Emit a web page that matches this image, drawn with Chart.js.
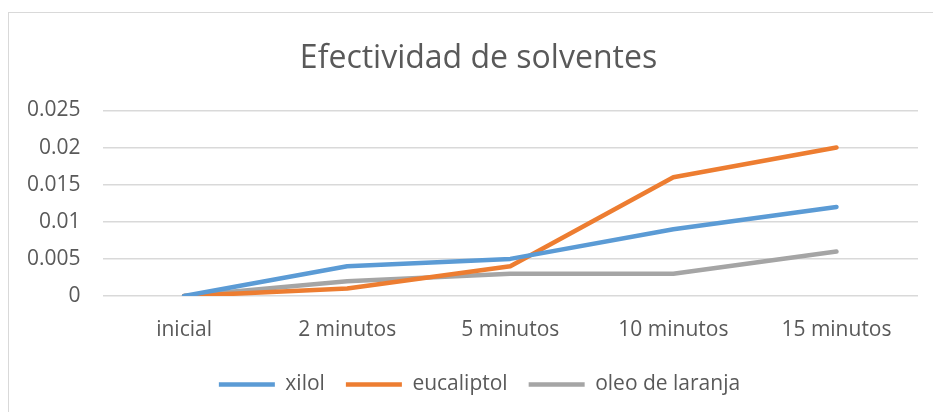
<!DOCTYPE html>
<html>
<head>
<meta charset="utf-8">
<script src="https://cdn.jsdelivr.net/npm/chart.js@4"></script>
<style>
    html, body { margin: 0; padding: 0; background: #fff; }
    #frame {
        position: absolute; left: 8px; top: 12px; width: 940px; height: 420px;
        border: 1px solid #d9d9d9; box-sizing: border-box;
    }
    #wrap { position: absolute; left: 0; top: 0; width: 933px; height: 412px; }
</style>
</head>
<body>
<div id="frame"></div>
<div id="wrap"><canvas id="solventChart"></canvas></div>
<script>
// Categories and series
const categories = ['inicial', '2 minutos', '5 minutos', '10 minutos', '15 minutos'];
const xilol = [0, 0.004, 0.005, 0.009, 0.012];
const eucaliptol = [0, 0.001, 0.004, 0.016, 0.02];
const oleoDeLaranja = [0, 0.002, 0.003, 0.003, 0.006];

const textColor = '#595959';
const fontFamily = '"Open Sans", "Noto Sans", sans-serif';

function makeSeries(label, data, color) {
    return {
        label: label,
        data: data,
        borderColor: color,
        backgroundColor: color,
        borderWidth: 4.5,
        borderCapStyle: 'round',
        borderJoinStyle: 'round',
        pointRadius: 0,
        pointHoverRadius: 0,
        tension: 0,
        fill: false
    };
}

// title and legend in the original sit a bit right of the plot centre
const centerShift = {
    id: 'centerShift',
    afterLayout(chart) {
        chart.legend.left += 18;
        chart.legend.right += 18;
        chart.titleBlock.left += 17;
        chart.titleBlock.right += 17;
    }
};

const ctx = document.getElementById('solventChart').getContext('2d');
const solventChart = new Chart(ctx, {
    type: 'line',
    data: {
        labels: categories,
        datasets: [
            makeSeries('xilol', xilol, '#5b9bd5'),
            makeSeries('eucaliptol', eucaliptol, '#ed7d31'),
            makeSeries('oleo de laranja', oleoDeLaranja, '#a5a5a5')
        ]
    },
    plugins: [centerShift],
    options: {
        responsive: true,
        maintainAspectRatio: false,
        animation: false,
        layout: {
            padding: { top: 14, left: 5, right: 15, bottom: 7 }
        },
        plugins: {
            title: {
                display: true,
                text: 'Efectividad de solventes',
                color: textColor,
                font: { family: fontFamily, size: 32, weight: 'normal' },
                padding: { top: 26, bottom: 32 }
            },
            legend: {
                position: 'bottom',
                labels: {
                    color: textColor,
                    font: { family: fontFamily, size: 21 },
                    usePointStyle: true,
                    pointStyle: 'line',
                    pointStyleWidth: 56,
                    padding: 21
                }
            },
            tooltip: { enabled: false }
        },
        scales: {
            x: {
                offset: true,
                grid: { display: false },
                border: { display: false },
                ticks: {
                    color: textColor,
                    font: { family: fontFamily, size: 21 },
                    padding: 13,
                    maxRotation: 0
                },
                afterFit: s => { s.height = 57; }
            },
            y: {
                min: 0,
                max: 0.025,
                grid: { color: '#d9d9d9', lineWidth: 1.5, drawTicks: false },
                border: { display: false },
                ticks: {
                    stepSize: 0.005,
                    color: textColor,
                    font: { family: fontFamily, size: 21 },
                    padding: 22,
                    callback: v => String(+v.toFixed(3))
                }
            }
        }
    }
});
</script>
</body>
</html>
